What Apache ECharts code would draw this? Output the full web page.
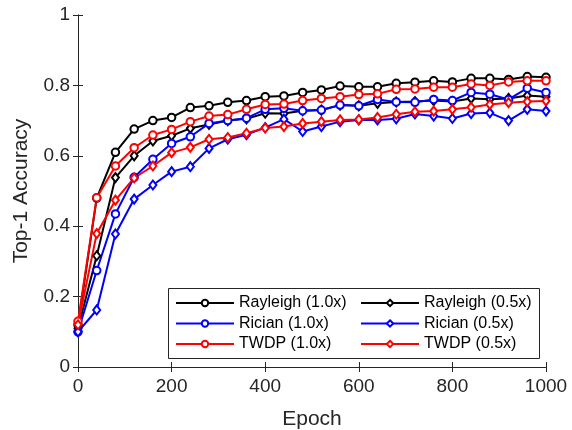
<!DOCTYPE html>
<html>
<head>
<meta charset="utf-8">
<script src="https://cdn.jsdelivr.net/npm/echarts@6/dist/echarts.min.js"></script>
<style>
  html, body { margin: 0; padding: 0; background: #fff; }
  #chart { width: 572px; height: 430px; }
</style>
</head>
<body>
<div id="chart"></div>
<script>
// epochs, every 40
var epochs = [0, 40, 80, 120, 160, 200, 240, 280, 320, 360, 400, 440, 480, 520,
              560, 600, 640, 680, 720, 760, 800, 840, 880, 920, 960, 1000];

var rayleigh_10 = [0.12, 0.48, 0.61, 0.676, 0.70, 0.709, 0.737, 0.742, 0.752, 0.757, 0.768, 0.77, 0.78,
                   0.787, 0.798, 0.796, 0.796, 0.806, 0.809, 0.813, 0.81, 0.82, 0.82, 0.817, 0.825, 0.823];
var rayleigh_05 = [0.11, 0.316, 0.538, 0.60, 0.642, 0.657, 0.678, 0.689, 0.70, 0.705, 0.721, 0.72, 0.728,
                   0.73, 0.744, 0.742, 0.749, 0.753, 0.754, 0.757, 0.754, 0.763, 0.761, 0.763, 0.771, 0.768];
var rician_10 = [0.10, 0.274, 0.435, 0.539, 0.59, 0.635, 0.654, 0.692, 0.70, 0.707, 0.732, 0.735, 0.728,
                 0.73, 0.744, 0.742, 0.76, 0.753, 0.752, 0.76, 0.757, 0.78, 0.775, 0.76, 0.792, 0.78];
var rician_05 = [0.10, 0.162, 0.378, 0.477, 0.517, 0.555, 0.569, 0.621, 0.647, 0.66, 0.68, 0.704, 0.669,
                 0.683, 0.697, 0.702, 0.702, 0.705, 0.719, 0.713, 0.706, 0.72, 0.722, 0.70, 0.732, 0.727];
var twdp_10 = [0.13, 0.481, 0.571, 0.623, 0.659, 0.675, 0.697, 0.713, 0.717, 0.732, 0.746, 0.747, 0.757,
               0.763, 0.768, 0.774, 0.776, 0.789, 0.79, 0.795, 0.795, 0.804, 0.80, 0.81, 0.813, 0.813];
var twdp_05 = [0.12, 0.379, 0.474, 0.537, 0.571, 0.609, 0.624, 0.647, 0.652, 0.664, 0.679, 0.683, 0.692,
               0.697, 0.702, 0.703, 0.709, 0.718, 0.725, 0.727, 0.732, 0.738, 0.746, 0.751, 0.754, 0.756];

var names_left = ["Rayleigh (1.0x)", "Rician (1.0x)", "TWDP (1.0x)"];
var names_right = ["Rayleigh (0.5x)", "Rician (0.5x)", "TWDP (0.5x)"];

var font = "Liberation Sans, Arial, Helvetica, sans-serif";
var axisColor = "#262626";

function pairs(vals) {
    return epochs.map(function (e, i) { return [e, vals[i]]; });
}

function make_series(name, vals, color, symbol) {
    var isDiamond = symbol.indexOf("iamond") > 0;
    return {
        name: name,
        type: "line",
        data: pairs(vals),
        symbol: symbol,
        symbolSize: isDiamond ? [7, 9] : 7.5,
        showSymbol: true,
        lineStyle: { color: color, width: 2 },
        itemStyle: { color: color, borderColor: color, borderWidth: 1.5 },
        emphasis: { disabled: true },
        animation: false
    };
}

var chart = echarts.init(document.getElementById("chart"));

var legendCommon = {
    orient: "vertical",
    itemWidth: 58,
    itemHeight: 8,
    itemGap: 4.5,
    textStyle: { fontFamily: font, fontSize: 16, color: "#000", lineHeight: 16 },
    padding: 0
};

var option = {
    backgroundColor: "#fff",
    grid: { left: 78, right: 26, top: 15, bottom: 63, containLabel: false, outerBoundsMode: "none" },
    xAxis: [{
        type: "value",
        min: 0, max: 1000, interval: 200,
        name: "Epoch",
        nameLocation: "middle",
        nameGap: 42,
        nameTextStyle: { fontFamily: font, fontSize: 21, color: axisColor },
        axisLine: { lineStyle: { color: axisColor, width: 1 } },
        axisTick: { inside: true, length: 5, lineStyle: { color: axisColor } },
        axisLabel: {
            fontFamily: font, fontSize: 19, color: axisColor, margin: 10,
            formatter: function (v) { return String(v); }
        },
        splitLine: { show: false }
    }, {
        type: "value",
        position: "top",
        min: 0, max: 1000, interval: 200,
        axisLine: { show: true, lineStyle: { color: axisColor, width: 1 } },
        axisTick: { inside: true, length: 5, lineStyle: { color: axisColor } },
        axisLabel: { show: false },
        splitLine: { show: false }
    }],
    yAxis: [{
        type: "value",
        min: 0, max: 1, interval: 0.2,
        name: "Top-1 Accuracy",
        nameLocation: "middle",
        nameGap: 46,
        nameTextStyle: { fontFamily: font, fontSize: 21, color: axisColor },
        axisLine: { show: true, lineStyle: { color: axisColor, width: 1 } },
        axisTick: { show: true, inside: true, length: 5, lineStyle: { color: axisColor } },
        axisLabel: { fontFamily: font, fontSize: 19, color: axisColor, margin: 8 },
        splitLine: { show: false }
    }, {
        type: "value",
        position: "right",
        min: 0, max: 1, interval: 0.2,
        axisLine: { show: true, lineStyle: { color: axisColor, width: 1 } },
        axisTick: { show: true, inside: true, length: 5, lineStyle: { color: axisColor } },
        axisLabel: { show: false },
        splitLine: { show: false }
    }],
    legend: [
        Object.assign({ data: names_left, left: 175, top: 295 }, legendCommon),
        Object.assign({ data: names_right, left: 360, top: 295 }, legendCommon)
    ],
    graphic: [{
        type: "rect",
        shape: { x: 168.5, y: 288.5, width: 371, height: 70 },
        style: { fill: "#fff", stroke: axisColor, lineWidth: 1 },
        z: 0
    }],
    series: [
        make_series("Rayleigh (1.0x)", rayleigh_10, "#000000", "emptyCircle"),
        make_series("Rayleigh (0.5x)", rayleigh_05, "#000000", "emptyDiamond"),
        make_series("Rician (1.0x)", rician_10, "#0000ff", "emptyCircle"),
        make_series("Rician (0.5x)", rician_05, "#0000ff", "emptyDiamond"),
        make_series("TWDP (1.0x)", twdp_10, "#ff0000", "emptyCircle"),
        make_series("TWDP (0.5x)", twdp_05, "#ff0000", "emptyDiamond")
    ]
};

chart.setOption(option);
</script>
</body>
</html>
